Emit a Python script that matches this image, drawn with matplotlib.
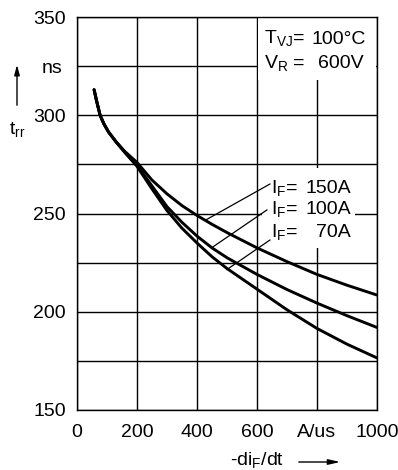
import matplotlib
matplotlib.use("Agg")
import matplotlib.pyplot as plt
from matplotlib.patches import Rectangle, FancyArrowPatch

plt.rcParams['font.family'] = ['Liberation Sans', 'DejaVu Sans']
plt.rcParams['mathtext.fontset'] = 'custom'
plt.rcParams['mathtext.rm'] = 'Liberation Sans'
plt.rcParams['mathtext.it'] = 'Liberation Sans:italic'
plt.rcParams['mathtext.bf'] = 'Liberation Sans:bold'

# data
di_dt_150 = [57, 65, 77, 90, 105, 130, 160, 200, 250, 300, 350, 400, 450, 500, 600, 700, 800, 900, 1000]
trr_150 = [313, 307.5, 300, 295.5, 291.5, 286.5, 281.5, 276, 267, 260, 254, 249, 244.5, 240.3, 232.5, 225.5, 219, 213.5, 208.5]
di_dt_100 = [57, 65, 77, 90, 105, 130, 160, 200, 250, 300, 350, 400, 450, 500, 600, 700, 800, 900, 1000]
trr_100 = [313, 307.5, 300, 295.5, 291.5, 286.5, 281, 274.5, 264, 253.5, 245.5, 238.5, 232.5, 227.5, 219, 211.3, 204.4, 198, 192]
di_dt_70 = [57, 65, 77, 90, 105, 130, 160, 200, 250, 300, 350, 400, 450, 500, 600, 700, 800, 900, 1000]
trr_70 = [313, 307.5, 300, 295.5, 291.5, 286.5, 281, 274, 262.5, 251.5, 242.5, 235, 228, 222, 211.5, 201, 191.5, 183.5, 176.5]

x_ticks = [0, 200, 400, 600, 800, 1000]
x_ticklabels = ['0', '200', '400', '600', 'A/us', '1000']
y_ticks = [150, 175, 200, 225, 250, 275, 300, 325, 350]
y_ticklabels = ['150', '', '200', '', '250', '', '300', '', '350']

series_labels = ['150A', '100A', '70A']
# leader lines: (label end, curve end)
leaders = [((643, 265), (427, 246.5)),
           ((633, 251.8), (453, 233)),
           ((643, 236.5), (500, 221.5))]

W, H = 398, 470
fig = plt.figure(figsize=(W/100, H/100), dpi=100)
ax = fig.add_axes([77/W, 1-410/H, 300/W, 393/H])
ax.set_xlim(0, 1000)
ax.set_ylim(150, 350)
ax.set_xticks(x_ticks)
ax.set_xticklabels(x_ticklabels)
ax.set_yticks(y_ticks)
ax.set_yticklabels(y_ticklabels)
ax.tick_params(length=0, labelsize=14, colors='black')
ax.tick_params(axis='y', pad=8)
ax.tick_params(axis='x', pad=10)
ax.grid(True, color='black', lw=1.0)
for s in ax.spines.values():
    s.set_linewidth(1.0)

# white areas behind texts
ax.add_patch(Rectangle((603, 318), 394, 32, facecolor='white', edgecolor='none', zorder=2))
ax.add_patch(Rectangle((617, 232.4), 310, 40.8, facecolor='white', edgecolor='none', zorder=2))

for xs, ys in [(di_dt_150, trr_150), (di_dt_100, trr_100), (di_dt_70, trr_70)]:
    ax.plot(xs, ys, color='black', lw=2.1, zorder=4, solid_capstyle='round', solid_joinstyle='round')

for (p1, p2) in leaders:
    ax.plot([p1[0], p2[0]], [p1[1], p2[1]], color='black', lw=0.9, zorder=3)

def fx(px):
    return px / W

def fy(py):
    return 1 - py / H

fs = 14
# IF labels
base_py = [193, 214, 237]
for lab, py in zip(series_labels, base_py):
    fig.text(fx(271), fy(py), r'I$_{\rm F}$=', fontsize=fs, va='baseline', ha='left', zorder=5)
    fig.text(fx(351), fy(py), lab, fontsize=fs, va='baseline', ha='right', zorder=5)

# conditions
fig.text(fx(264), fy(43.5), r'T$_{\rm VJ}$=', fontsize=fs, va='baseline', ha='left')
fig.text(fx(366), fy(43.5), '100°C', fontsize=fs, va='baseline', ha='right')
fig.text(fx(264), fy(68), r'V$_{\rm R}$ =', fontsize=fs, va='baseline', ha='left')
fig.text(fx(364), fy(68), '600V', fontsize=fs, va='baseline', ha='right')

# unit on y axis
fig.text(fx(52), fy(73), 'ns', fontsize=fs, va='baseline', ha='center')

# y axis label with arrow
fig.text(fx(17), fy(134), r't$_{\rm rr}$', fontsize=fs, va='baseline', ha='center')
fig.add_artist(FancyArrowPatch((fx(17), fy(108)), (fx(17), fy(62)),
               transform=fig.transFigure, arrowstyle='-|>,head_length=6,head_width=1.6',
               color='black', lw=1.0))

# x axis label with arrow
fig.text(fx(257), fy(465), r'-di$_{\rm F}$/dt', fontsize=fs, va='baseline', ha='center')
fig.add_artist(FancyArrowPatch((fx(296), fy(462)), (fx(343), fy(462)),
               transform=fig.transFigure, arrowstyle='-|>,head_length=7,head_width=1.6',
               color='black', lw=1.0))

fig.savefig('out.png', dpi=100)
